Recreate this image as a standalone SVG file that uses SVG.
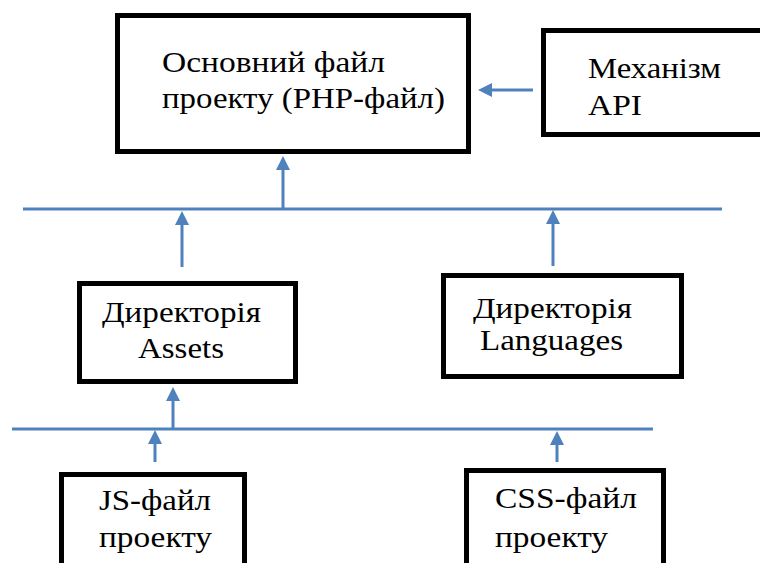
<svg xmlns="http://www.w3.org/2000/svg" width="760" height="563" viewBox="0 0 760 563">
  <style>
    .box { fill: #ffffff; stroke: #000000; stroke-width: 5; }
    .label { font-family: "Liberation Serif", "Times New Roman", serif; font-size: 29px; fill: #000000; }
    .link { fill: none; stroke: #4F81BD; stroke-width: 3; }
    .arrow { marker-end: url(#head); }
  </style>
  <defs>
    <marker id="head" markerUnits="userSpaceOnUse" markerWidth="14" markerHeight="14" viewBox="0 0 14 14" refX="3" refY="7" orient="auto">
      <path d="M0,0 L14,7 L0,14 Z" fill="#4F81BD"/>
    </marker>
  </defs>
  <rect width="760" height="563" fill="#ffffff"/>

  <g id="connectors">
    <!-- bus lines -->
    <line class="link" x1="23" y1="209" x2="722" y2="209"/>
    <line class="link" x1="12" y1="429" x2="653" y2="429"/>
    <!-- upper bus to main file -->
    <line class="link arrow" x1="283" y1="210" x2="283" y2="167"/>
    <!-- API to main file -->
    <line class="link arrow" x1="533" y1="90" x2="489" y2="90"/>
    <!-- directories to upper bus -->
    <line class="link arrow" x1="182" y1="267" x2="182" y2="222"/>
    <line class="link arrow" x1="553" y1="266" x2="553" y2="221"/>
    <!-- lower bus to Assets -->
    <line class="link arrow" x1="173" y1="429" x2="173" y2="398"/>
    <!-- source files to lower bus -->
    <line class="link arrow" x1="155" y1="462" x2="155" y2="441"/>
    <line class="link arrow" x1="557" y1="462" x2="557" y2="442"/>
  </g>

  <g id="main-file">
    <rect class="box" x="117.5" y="15.5" width="351" height="136"/>
    <text class="label" x="162" y="72" textLength="223" lengthAdjust="spacingAndGlyphs">Основний файл</text>
    <text class="label" x="162" y="108" textLength="283" lengthAdjust="spacingAndGlyphs">проекту (PHP-файл)</text>
  </g>

  <g id="api">
    <rect class="box" x="543.5" y="30.5" width="230" height="104"/>
    <text class="label" x="588" y="78" textLength="133" lengthAdjust="spacingAndGlyphs">Механізм</text>
    <text class="label" x="588" y="115" textLength="54" lengthAdjust="spacingAndGlyphs">API</text>
  </g>

  <g id="assets-dir">
    <rect class="box" x="79.5" y="283.5" width="216" height="98"/>
    <text class="label" x="102" y="322" textLength="159" lengthAdjust="spacingAndGlyphs">Директорія</text>
    <text class="label" x="138" y="358" textLength="86" lengthAdjust="spacingAndGlyphs">Assets</text>
  </g>

  <g id="languages-dir">
    <rect class="box" x="443.5" y="275.5" width="238" height="101"/>
    <text class="label" x="473" y="318" textLength="159" lengthAdjust="spacingAndGlyphs">Директорія</text>
    <text class="label" x="480" y="350" textLength="143" lengthAdjust="spacingAndGlyphs">Languages</text>
  </g>

  <g id="js-file">
    <rect class="box" x="61.5" y="474.5" width="183" height="100"/>
    <text class="label" x="99" y="510" textLength="112" lengthAdjust="spacingAndGlyphs">JS-файл</text>
    <text class="label" x="99" y="547" textLength="113" lengthAdjust="spacingAndGlyphs">проекту</text>
  </g>

  <g id="css-file">
    <rect class="box" x="466.5" y="470.5" width="197" height="100"/>
    <text class="label" x="495" y="508" textLength="142" lengthAdjust="spacingAndGlyphs">CSS-файл</text>
    <text class="label" x="495" y="547" textLength="113" lengthAdjust="spacingAndGlyphs">проекту</text>
  </g>
</svg>
